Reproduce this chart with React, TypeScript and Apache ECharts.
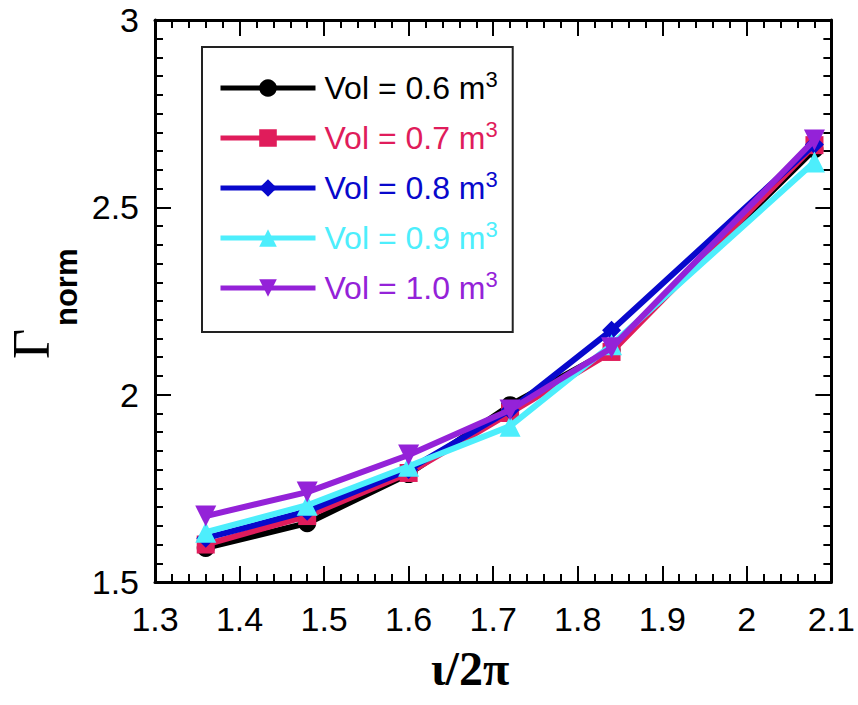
import React, { useEffect, useRef } from "react";
import * as echarts from "echarts";

const xValues = [1.36, 1.48, 1.6, 1.72, 1.84, 2.08];
const vol06 = [1.591, 1.657, 1.788, 1.972, 2.12, 2.655];
const vol07 = [1.6, 1.676, 1.791, 1.951, 2.114, 2.666];
const vol08 = [1.617, 1.689, 1.8, 1.959, 2.172, 2.668];
const vol09 = [1.633, 1.705, 1.809, 1.916, 2.133, 2.621];
const vol10 = [1.676, 1.74, 1.839, 1.959, 2.125, 2.68];

const seriesNames = ["Vol = 0.6 m3", "Vol = 0.7 m3", "Vol = 0.8 m3", "Vol = 0.9 m3", "Vol = 1.0 m3"];
const seriesColors = ["#000000", "#E01C5B", "#0808CC", "#4DEEFC", "#9422D8"];
const seriesSymbols = ["circle", "rect", "diamond", "triangle", "triangle"];
const seriesRotate = [0, 0, 0, 0, 180];
const seriesData = [vol06, vol07, vol08, vol09, vol10];

const xTicks = { min: 1.3, max: 2.1, step: 0.1 };
const yTicks = { min: 1.5, max: 3, step: 0.5 };

const TICK_FONT = "'Liberation Sans', Arial, sans-serif";

function axisCommon(showLabel: boolean, splitNum: number) {
  return {
    axisLine: { show: true, onZero: false, lineStyle: { color: "#000", width: 3 } },
    axisTick: { show: true, inside: true, length: 16, lineStyle: { color: "#000", width: 2 } },
    minorTick: { show: true, splitNumber: splitNum, length: 8, lineStyle: { color: "#000", width: 2 } },
    splitLine: { show: false },
    minorSplitLine: { show: false },
    axisLabel: {
      show: showLabel,
      color: "#000",
      fontSize: 34,
      fontFamily: TICK_FONT,
    },
  };
}

export default function App() {
  const ref = useRef<HTMLDivElement>(null);
  useEffect(() => {
    if (!ref.current) return;
    const chart = echarts.init(ref.current, undefined, { renderer: "svg" });
    const rich: Record<string, any> = {};
    seriesColors.forEach((c, i) => {
      rich["t" + i] = { color: c, fontSize: 32, fontFamily: TICK_FONT, lineHeight: 40, padding: [0, 0, 0, 4] };
      rich["s" + i] = { color: c, fontSize: 22, fontFamily: TICK_FONT, lineHeight: 22, verticalAlign: "top" };
    });
    const option: any = {
      animation: false,
      backgroundColor: "#fff",
      grid: { left: 155, top: 20, right: 25, bottom: 123, containLabel: false },
      xAxis: [
        {
          type: "value",
          min: xTicks.min,
          max: xTicks.max,
          interval: xTicks.step,
          position: "bottom",
          ...axisCommon(true, 5),
          axisLabel: { ...axisCommon(true, 5).axisLabel, margin: 20 },
        },
        {
          type: "value",
          min: xTicks.min,
          max: xTicks.max,
          interval: xTicks.step,
          position: "top",
          ...axisCommon(false, 5),
        },
      ],
      yAxis: [
        {
          type: "value",
          min: yTicks.min,
          max: yTicks.max,
          interval: yTicks.step,
          position: "left",
          ...axisCommon(true, 10),
          axisLabel: { ...axisCommon(true, 10).axisLabel, margin: 16 },
        },
        {
          type: "value",
          min: yTicks.min,
          max: yTicks.max,
          interval: yTicks.step,
          position: "right",
          ...axisCommon(false, 10),
        },
      ],
      legend: {
        left: 202,
        top: 47,
        orient: "vertical",
        padding: [21, 15, 28, 16],
        itemGap: 14,
        itemWidth: 95,
        itemHeight: 22,
        borderColor: "#222",
        borderWidth: 2,
        backgroundColor: "#fff",
        lineStyle: { width: 5 },
        data: seriesNames.map((n) => ({ name: n })),
        formatter: (name: string) => {
          const i = seriesNames.indexOf(name);
          return `{t${i}|${name.slice(0, -1)}}{s${i}|${name.slice(-1)}}`;
        },
        textStyle: { rich },
        selectedMode: false,
      },
      series: seriesNames.map((n, i) => ({
        name: n,
        type: "line",
        xAxisIndex: 0,
        yAxisIndex: 0,
        data: xValues.map((x, j) => [x, seriesData[i][j]]),
        symbol: seriesSymbols[i],
        symbolRotate: seriesRotate[i],
        symbolSize: i === 0 ? 18 : i === 1 ? 18 : i === 2 ? 19 : 21,
        showSymbol: true,
        lineStyle: { color: seriesColors[i], width: 6 },
        itemStyle: { color: seriesColors[i], borderWidth: 0 },
        emphasis: { disabled: true },
        z: 2 + i,
      })),
      graphic: [
        {
          type: "text",
          style: {
            text: "ι/2π",
            x: 470,
            y: 668,
            textAlign: "center",
            textVerticalAlign: "middle",
            font: "bold 48px 'Liberation Serif', 'Times New Roman', serif",
            fill: "#000",
          },
        },
        {
          type: "group",
          x: 31,
          y: 359,
          rotation: Math.PI / 2,
          children: [
            {
              type: "text",
              x: 0,
              y: 0,
              style: {
                text: "Γ",
                textAlign: "left",
                textVerticalAlign: "middle",
                font: "52px 'Liberation Serif', 'Times New Roman', serif",
                fill: "#000",
              },
            },
            {
              type: "text",
              x: 33,
              y: 35,
              style: {
                text: "norm",
                textAlign: "left",
                textVerticalAlign: "middle",
                font: "bold 31px 'Liberation Sans', Arial, sans-serif",
                fill: "#000",
              },
            },
          ],
        },
      ],
    };
    chart.setOption(option);
    return () => chart.dispose();
  }, []);
  return <div ref={ref} style={{ position: "fixed", left: 0, top: 0, width: 858, height: 705 }} />;
}
